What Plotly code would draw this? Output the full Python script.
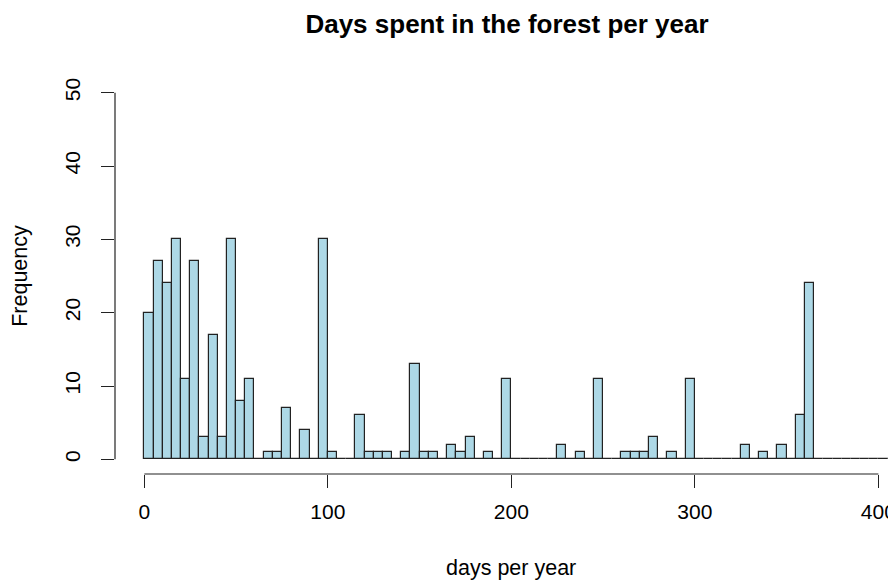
import plotly.graph_objects as go

bin_width = 5
bin_starts = list(range(0, 420, 5))
counts_known = [20, 27, 24, 30, 11, 27, 3, 17, 3, 30, 8, 11, 0, 1, 1, 7, 0, 4, 0, 30,
                1, 0, 0, 6, 1, 1, 1, 0, 1, 13, 1, 1, 0, 2, 1, 3, 0, 1, 0, 11,
                0, 0, 0, 0, 0, 2, 0, 1, 0, 11, 0, 0, 1, 1, 1, 3, 0, 1, 0, 11,
                0, 0, 0, 0, 0, 2, 0, 1, 0, 2, 0, 6, 24]
counts = counts_known + [0] * (len(bin_starts) - len(counts_known))

x_ticks = [0, 100, 200, 300, 400]
y_ticks = [0, 10, 20, 30, 40, 50]

font_family = "Liberation Sans, Arial, sans-serif"

fig = go.Figure()
fig.add_trace(go.Bar(
    x=bin_starts, y=counts, width=bin_width, offset=0,
    marker=dict(color="#ADD8E6", line=dict(color="#222222", width=1.2)),
    showlegend=False,
))

fig.update_layout(
    width=888, height=573,
    margin=dict(l=107, r=0, t=70, b=107),
    paper_bgcolor="white", plot_bgcolor="white",
    font=dict(family=font_family, size=21, color="black"),
    title=dict(text="Days spent in the forest per year", x=499/888, xanchor="center",
               y=1 - 16/573, yanchor="middle", yref="container",
               font=dict(size=26, weight="bold", family=font_family)),
    bargap=0,
    xaxis=dict(range=[-16, 409.6], tickvals=x_ticks, ticks="outside", ticklen=13,
               tickwidth=1.2, tickcolor="#222222", showgrid=False, zeroline=False,
               showline=False, ticklabelstandoff=6),
    yaxis=dict(range=[-2, 52], tickvals=y_ticks, ticks="outside", ticklen=13,
               tickwidth=1.2, tickcolor="#222222", showgrid=False, zeroline=False,
               showline=False, tickangle=-90,
               title=dict(text="Frequency", standoff=27, font=dict(size=21.5)),
               ticklabelstandoff=13),
    annotations=[
        dict(text="days per year", xref="paper", yref="paper", x=0.507, y=0,
             xanchor="center", yanchor="middle", yshift=-94, showarrow=False,
             font=dict(size=21.5)),
    ],
    shapes=[
        dict(type="line", xref="x", yref="paper", x0=x_ticks[0], x1=x_ticks[-1], y0=0, y1=0,
             line=dict(color="#222222", width=1.2)),
        dict(type="line", xref="paper", yref="y", x0=0, x1=0, y0=y_ticks[0], y1=y_ticks[-1],
             line=dict(color="#222222", width=1.2)),
    ],
)

fig.write_html("out.html")
